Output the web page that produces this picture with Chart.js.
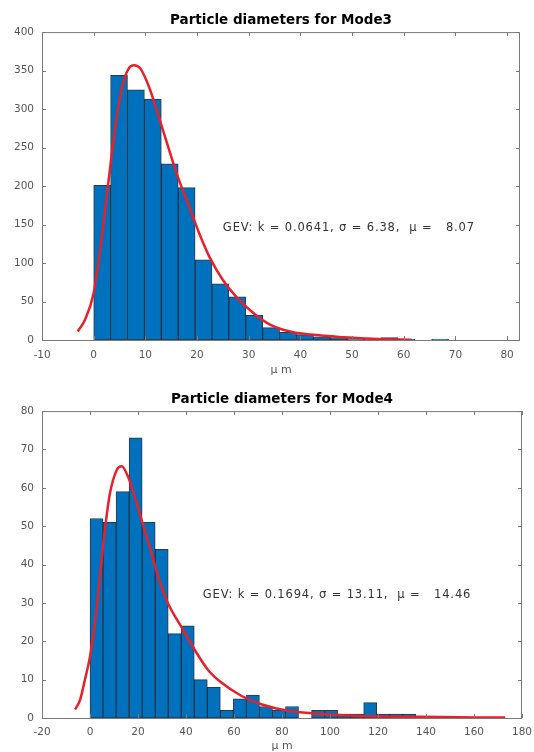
<!DOCTYPE html>
<html>
<head>
<meta charset="utf-8">
<script src="https://cdn.jsdelivr.net/npm/chart.js@4.4.1/dist/chart.umd.min.js"></script>
<style>
    body { margin: 0; background: #fff; }
    canvas { display: block; }
</style>
</head>
<body>
<canvas id="mode3" width="534" height="376"></canvas>
<canvas id="mode4" width="534" height="376"></canvas>
<script>
// Mode3: histogram bins (centres, width ~3.27) and fitted GEV curve
const mode3Centers = [1.64, 4.91, 8.18, 11.45, 14.72, 17.99, 21.26, 24.53, 27.8, 31.07, 34.34,
    37.61, 40.88, 44.15, 47.42, 50.69, 53.96, 57.23, 60.5, 63.77, 67.04];
const mode3Counts = [201, 344, 325, 313, 229, 198, 104, 73, 56, 32, 16,
    10, 7, 4, 3, 2, 2, 3, 1, 0, 1];
const mode3FitX = [-3.1, -1.7, 0, 1.5, 2.9, 4.2, 5.5, 6.8, 7.8, 9.0, 10.7, 12.6, 14.6, 16.5,
    18.5, 20.4, 22.4, 25, 27.6, 30.9, 34.1, 38, 42, 48.5, 55, 61.5];
const mode3FitY = [11, 26, 61, 130, 208, 277, 329, 353, 357, 353, 329, 290, 247, 208,
    173, 139, 108, 78, 56, 35, 20, 11, 7, 3.5, 1.3, 0.3];
const mode3XTicks = [-10, 0, 10, 20, 30, 40, 50, 60, 70, 80];
const mode3YTicks = [0, 50, 100, 150, 200, 250, 300, 350, 400];

// Mode4: histogram bins (centres, width ~5.43) and fitted GEV curve
const mode4Centers = [2.72, 8.15, 13.58, 19.01, 24.44, 29.87, 35.3, 40.73, 46.16, 51.59, 57.02,
    62.45, 67.88, 73.31, 78.74, 84.17, 89.6, 95.03, 100.46, 105.89, 111.32, 116.75, 122.18,
    127.61, 133.04];
const mode4Counts = [52, 51, 59, 73, 51, 44, 22, 24, 10, 8, 2,
    5, 6, 3, 2, 3, 0, 2, 2, 1, 1, 4, 1,
    1, 1];
const mode4FitX = [-6.2, -4.1, -2.1, 0, 2.1, 4.1, 6.2, 8.3, 11.1, 13.2, 15.9, 18.7, 21.5, 24.9,
    28.4, 32.5, 38, 43.6, 49.1, 54.6, 63, 71.3, 82.4, 93.3, 110, 137.7, 173];
const mode4FitY = [2.2, 4.8, 10, 16, 24.7, 36.8, 49, 58.5, 64.6, 65.6, 62.8, 57.6, 51.6, 44.6,
    36.8, 29.9, 23.8, 17.8, 12.6, 9.3, 5.8, 3.6, 1.9, 1.2, 0.6, 0.3, 0.1];
const mode4XTicks = [-20, 0, 20, 40, 60, 80, 100, 120, 140, 160, 180];
const mode4YTicks = [0, 10, 20, 30, 40, 50, 60, 70, 80];

const FONT = "'DejaVu Sans', sans-serif";

// MATLAB-like axes box with inward ticks on all four sides, plus the fit text
const matlabBox = {
    id: 'matlabBox',
    afterDatasetsDraw(chart, args, opts) {
        const { ctx, chartArea: a, scales: { x, y } } = chart;
        ctx.save();
        ctx.strokeStyle = '#7a7a7a';
        ctx.lineWidth = 1;
        ctx.strokeRect(a.left + 0.5, a.top + 0.5, a.right - a.left - 1, a.bottom - a.top);
        ctx.beginPath();
        x.ticks.forEach(t => {
            const px = Math.round(x.getPixelForValue(t.value)) + 0.5;
            ctx.moveTo(px, a.bottom); ctx.lineTo(px, a.bottom - 4);
            ctx.moveTo(px, a.top); ctx.lineTo(px, a.top + 4);
        });
        y.ticks.forEach(t => {
            const py = Math.round(y.getPixelForValue(t.value)) + 0.5;
            ctx.moveTo(a.left, py); ctx.lineTo(a.left + 4, py);
            ctx.moveTo(a.right, py); ctx.lineTo(a.right - 4, py);
        });
        ctx.stroke();

        if (opts.text) {
            ctx.fillStyle = '#333';
            ctx.font = `11.5px ${FONT}`;
            ctx.letterSpacing = '0.85px';
            ctx.textBaseline = 'middle';
            ctx.fillText(opts.text, x.getPixelForValue(opts.at[0]), y.getPixelForValue(opts.at[1]));
        }
        ctx.restore();
    }
};

function makeChart(id, spec) {
    return new Chart(document.getElementById(id), {
        data: {
            datasets: [
                {
                    type: 'line',
                    order: 0,
                    data: spec.fitX.map((v, i) => ({ x: v, y: spec.fitY[i] })),
                    borderColor: '#e8202a',
                    borderWidth: 2.5,
                    pointRadius: 0,
                    cubicInterpolationMode: 'monotone',
                },
                {
                    type: 'bar',
                    order: 1,
                    data: spec.centers.map((v, i) => ({ x: v, y: spec.counts[i] })),
                    backgroundColor: '#0072BD',
                    borderColor: 'rgba(10, 20, 40, 0.85)',
                    borderWidth: 1,
                    borderSkipped: false,
                    barPercentage: 1,
                    categoryPercentage: 1,
                }
            ]
        },
        options: {
            responsive: false,
            animation: false,
            layout: { padding: { left: 0, right: spec.right, top: 0, bottom: 0 } },
            scales: {
                x: {
                    type: 'linear',
                    offset: false,
                    min: spec.xMin,
                    max: spec.xMax,
                    afterBuildTicks: s => { s.ticks = spec.xTicks.map(v => ({ value: v })); },
                    afterFit: s => {
                        s.height = spec.xHeight;
                        s.paddingLeft = 0;
                        s.paddingRight = 0;
                    },
                    grid: { display: false, drawTicks: false, offset: false },
                    border: { display: false },
                    ticks: { padding: spec.xPad, color: '#555', font: { family: FONT, size: 10.5 }, maxRotation: 0 },
                    title: {
                        display: true, text: 'μ m', color: '#555',
                        font: { family: FONT, size: 11, lineHeight: 1 },
                        padding: 0
                    }
                },
                y: {
                    min: spec.yTicks[0],
                    max: spec.yTicks[spec.yTicks.length - 1],
                    afterBuildTicks: s => { s.ticks = spec.yTicks.map(v => ({ value: v })); },
                    afterFit: s => { s.width = 42; },
                    grid: { display: false, drawTicks: false },
                    border: { display: false },
                    ticks: { padding: 8, color: '#555', font: { family: FONT, size: 10.5 } }
                }
            },
            plugins: {
                legend: { display: false },
                tooltip: { enabled: false },
                title: {
                    display: true,
                    fullSize: false,
                    text: spec.title,
                    color: '#000',
                    font: { family: FONT, size: 13.5, weight: 'bold', lineHeight: 1.2 },
                    padding: { top: spec.titleTop, bottom: 4 }
                },
                matlabBox: { text: spec.note, at: spec.noteAt }
            }
        },
        plugins: [matlabBox]
    });
}

makeChart('mode3', {
    title: 'Particle diameters for Mode3',
    centers: mode3Centers, counts: mode3Counts,
    fitX: mode3FitX, fitY: mode3FitY,
    xTicks: mode3XTicks, yTicks: mode3YTicks,
    xMin: -10, xMax: 82.5, right: 14,
    xHeight: 36, xPad: 9, titleTop: 11.9,
    note: 'GEV: k = 0.0641, σ = 6.38,  μ =   8.07', noteAt: [25, 145]
});

makeChart('mode4', {
    title: 'Particle diameters for Mode4',
    centers: mode4Centers, counts: mode4Counts,
    fitX: mode4FitX, fitY: mode4FitY,
    xTicks: mode4XTicks, yTicks: mode4YTicks,
    xMin: -20, xMax: 180, right: 12,
    xHeight: 34, xPad: 8, titleTop: 14.9,
    note: 'GEV: k = 0.1694, σ = 13.11,  μ =   14.46', noteAt: [47, 32]
});
</script>
</body>
</html>
